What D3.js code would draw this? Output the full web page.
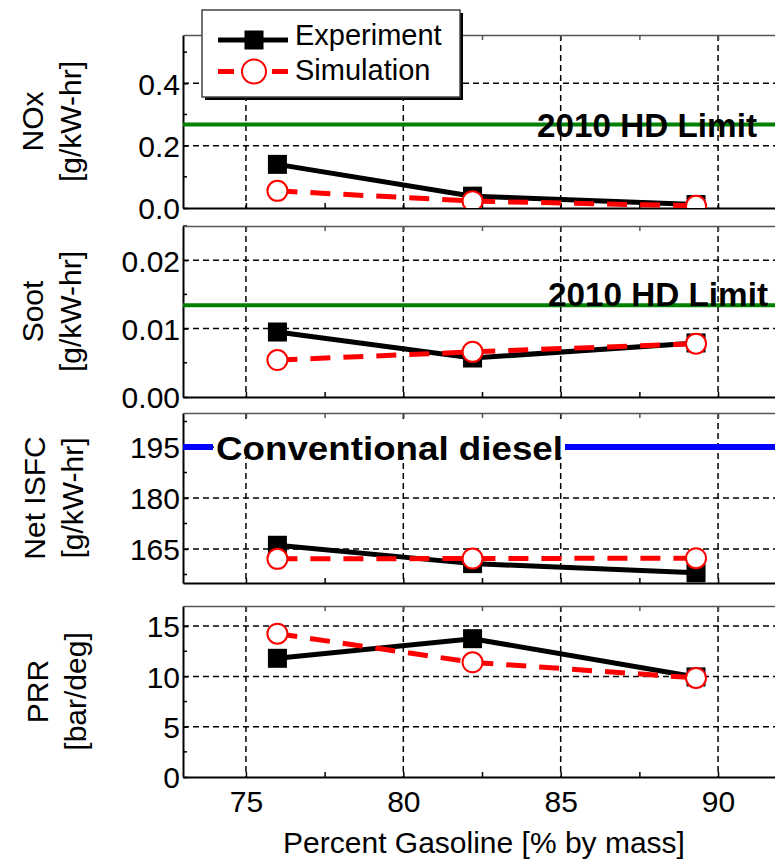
<!DOCTYPE html>
<html>
<head>
<meta charset="utf-8">
<script src="https://cdn.jsdelivr.net/npm/d3@7"></script>
<style>
  body { margin: 0; background: #fff; }
  text { font-family: "Liberation Sans", Arial, sans-serif; fill: #000; }
</style>
</head>
<body>
<div id="chart"></div>
<script>
// ===== data =====
let gasoline = [76.0, 82.2, 89.3];

let expNOx = [0.14, 0.038, 0.011];
let simNOx = [0.055, 0.022, 0.007];
let expSoot = [0.0095, 0.0057, 0.0079];
let simSoot = [0.0054, 0.0066, 0.0078];
let expISFC = [166.1, 160.7, 158.0];
let simISFC = [162.1, 162.2, 162.3];
let expPRR = [11.8, 13.75, 9.95];
let simPRR = [14.25, 11.4, 9.85];

let limitNOx = 0.268;
let limitSoot = 0.0134;
let dieselISFC = 195;

let panelNames = ["NOx", "Soot", "Net ISFC", "PRR"];
let panelUnits = ["[g/kW-hr]", "[g/kW-hr]", "[g/kW-hr]", "[bar/deg]"];
let yDomains = [[0, 0.555], [0, 0.025], [155, 205], [0, 17]];
let yMajor = [[0, 0.2, 0.4], [0, 0.01, 0.02], [165, 180, 195], [0, 5, 10, 15]];
let yMinor = [[0.1, 0.3, 0.5], [0.005, 0.015, 0.025], [157.5, 172.5, 187.5, 202.5], [2.5, 7.5, 12.5]];
let yFormats = [".1f", ".2f", "d", "d"];
let xMajor = [75, 80, 85, 90];
let xMinor = [77.5, 82.5, 87.5];
let xDomain = [73, 92];

let seriesNames = ["Experiment", "Simulation"];
let expAll = [expNOx, expSoot, expISFC, expPRR];
let simAll = [simNOx, simSoot, simISFC, simPRR];

// ===== layout =====
let svgWidth = 775;
let svgHeight = 861;
let plotLeft = 183;
let plotRight = 781;   // right border falls just outside the window
let panelTops = [35, 226, 413, 606];
let panelBottoms = [208, 397, 583, 777];
let labelShift = [0, 0, 2, 5];
let fontSize = 30;

let svg = d3.select("#chart")
  .append("svg")
  .attr("width", svgWidth)
  .attr("height", svgHeight);

let xScale = d3.scaleLinear().domain(xDomain).range([plotLeft, plotRight]);

let yScales = [];

panelNames.forEach(function(name, i) {
  let top = panelTops[i];
  let bot = panelBottoms[i];
  let yScale = d3.scaleLinear().domain(yDomains[i]).range([bot, top]);
  yScales.push(yScale);

  let g = svg.append("g").attr("class", "panel p" + i);

  // clip for marks
  g.append("clipPath").attr("id", "clip" + i)
    .append("rect")
    .attr("x", plotLeft).attr("y", top)
    .attr("width", plotRight - plotLeft).attr("height", bot - top);

  // dashed grid
  g.append("g").selectAll("line").data(xMajor).enter().append("line")
    .attr("x1", d => xScale(d)).attr("x2", d => xScale(d))
    .attr("y1", top).attr("y2", bot)
    .attr("stroke", "#000").attr("stroke-width", 1.5)
    .attr("stroke-dasharray", "6,4");
  g.append("g").selectAll("line").data(yMajor[i].filter(v => v > yDomains[i][0])).enter().append("line")
    .attr("x1", plotLeft).attr("x2", plotRight)
    .attr("y1", d => yScale(d)).attr("y2", d => yScale(d))
    .attr("stroke", "#000").attr("stroke-width", 1.5)
    .attr("stroke-dasharray", "6,4");

  // axes: left + bottom with inward ticks, top mirrored
  let yAxis = d3.axisLeft(yScale)
    .tickValues(yMajor[i])
    .tickFormat(d3.format(yFormats[i]))
    .tickSizeInner(-5).tickSizeOuter(0).tickPadding(3);
  let yAx = g.append("g").attr("transform", "translate(" + plotLeft + ",0)").call(yAxis);
  yAx.select(".domain").attr("stroke", "#000").attr("stroke-width", 2);
  yAx.selectAll("text").attr("font-size", fontSize).attr("font-family", null)
    .attr("dy", "0.36em");
  yAx.selectAll(".tick line").attr("stroke-width", 1.5);

  g.append("g").selectAll("line").data(yMinor[i]).enter().append("line")
    .attr("x1", plotLeft).attr("x2", plotLeft + 4)
    .attr("y1", d => yScale(d)).attr("y2", d => yScale(d))
    .attr("stroke", "#000").attr("stroke-width", 1.5);

  let xAxis = d3.axisBottom(xScale)
    .tickValues(xMajor.concat(xMinor))
    .tickFormat(d => xMajor.includes(d) ? d : "")
    .tickSizeInner(-5).tickSizeOuter(0).tickPadding(14);
  let xAx = g.append("g").attr("transform", "translate(0," + bot + ")").call(xAxis);
  xAx.select(".domain").attr("stroke", "#000").attr("stroke-width", 2);
  xAx.selectAll(".tick line").attr("stroke-width", 1.5);
  xAx.selectAll("text").attr("font-size", fontSize).attr("font-family", null);
  if (i < panelNames.length - 1) xAx.selectAll("text").remove();

  let xTop = d3.axisTop(xScale)
    .tickValues(xMajor.concat(xMinor))
    .tickFormat("")
    .tickSizeInner(-5).tickSizeOuter(0);
  let xT = g.append("g").attr("transform", "translate(0," + top + ")").call(xTop);
  xT.select(".domain").attr("stroke", "#555").attr("stroke-width", 1.5);
  xT.selectAll(".tick line").attr("stroke", "#555").attr("stroke-width", 1.5);

  // y title, two lines rotated
  let midY = (top + bot) / 2;
  g.append("text")
    .attr("transform", "translate(" + (43 + labelShift[i]) + "," + midY + ")rotate(-90)")
    .attr("text-anchor", "middle")
    .attr("font-size", fontSize)
    .text(name);
  g.append("text")
    .attr("transform", "translate(" + (81 + labelShift[i]) + "," + midY + ")rotate(-90)")
    .attr("text-anchor", "middle")
    .attr("font-size", fontSize)
    .text(panelUnits[i]);
});

// ===== reference limit lines =====
function limitLine(i, value, color, width) {
  return svg.select(".p" + i).append("line")
    .attr("x1", plotLeft).attr("x2", plotRight)
    .attr("y1", yScales[i](value)).attr("y2", yScales[i](value))
    .attr("stroke", color).attr("stroke-width", width);
}
limitLine(0, limitNOx, "#008000", 4);
limitLine(1, limitSoot, "#008000", 4);

svg.select(".p0").append("text")
  .attr("x", 757).attr("y", yScales[0](limitNOx) + 13)
  .attr("text-anchor", "end")
  .attr("font-size", 33).attr("font-weight", "bold")
  .attr("textLength", 220).attr("lengthAdjust", "spacingAndGlyphs")
  .text("2010 HD Limit");
svg.select(".p1").append("text")
  .attr("x", 768).attr("y", yScales[1](limitSoot) + 1)
  .attr("text-anchor", "end")
  .attr("font-size", 33).attr("font-weight", "bold")
  .attr("textLength", 220).attr("lengthAdjust", "spacingAndGlyphs")
  .text("2010 HD Limit");

// conventional diesel: blue line broken by the label
let dieselY = yScales[2](dieselISFC);
let tStart = 216, tEnd = 216 + 347;
// cover the grid behind the label
svg.select(".p2").append("rect")
  .attr("x", tStart - 2).attr("y", dieselY - 26)
  .attr("width", tEnd - tStart + 4).attr("height", 36)
  .attr("fill", "#fff");
svg.select(".p2").append("line")
  .attr("x1", plotLeft).attr("x2", tStart - 3)
  .attr("y1", dieselY).attr("y2", dieselY)
  .attr("stroke", "#0000ff").attr("stroke-width", 6);
svg.select(".p2").append("line")
  .attr("x1", tEnd + 2).attr("x2", plotRight)
  .attr("y1", dieselY).attr("y2", dieselY)
  .attr("stroke", "#0000ff").attr("stroke-width", 6);
svg.select(".p2").append("text")
  .attr("x", tStart).attr("y", dieselY + 13)
  .attr("font-size", 34).attr("font-weight", "bold")
  .attr("textLength", tEnd - tStart).attr("lengthAdjust", "spacingAndGlyphs")
  .text("Conventional diesel");

// ===== series =====
panelNames.forEach(function(name, i) {
  let yScale = yScales[i];
  let g = svg.select(".p" + i).append("g").attr("clip-path", "url(#clip" + i + ")");
  let line = d3.line().x((d, k) => xScale(gasoline[k])).y(d => yScale(d));

  g.append("path").datum(expAll[i])
    .attr("d", line).attr("fill", "none")
    .attr("stroke", "#000").attr("stroke-width", 5);
  g.selectAll("rect.exp").data(expAll[i]).enter().append("rect")
    .attr("class", "exp")
    .attr("x", (d, k) => xScale(gasoline[k]) - 9.5)
    .attr("y", d => yScale(d) - 9.5)
    .attr("width", 19).attr("height", 19)
    .attr("fill", "#000");

  g.append("path").datum(simAll[i])
    .attr("d", line).attr("fill", "none")
    .attr("stroke", "#ff0000").attr("stroke-width", 5)
    .attr("stroke-dasharray", "20,13");
  g.selectAll("circle.sim").data(simAll[i]).enter().append("circle")
    .attr("class", "sim")
    .attr("cx", (d, k) => xScale(gasoline[k]))
    .attr("cy", d => yScale(d))
    .attr("r", 10)
    .attr("fill", "#fff").attr("stroke", "#ff0000").attr("stroke-width", 2);
});

// x title
svg.append("text")
  .attr("x", 484).attr("y", 853)
  .attr("text-anchor", "middle")
  .attr("font-size", fontSize)
  .text("Percent Gasoline [% by mass]");

// ===== legend =====
let legend = svg.append("g").attr("class", "legend");
legend.append("rect")
  .attr("x", 205).attr("y", 13).attr("width", 258).attr("height", 87)
  .attr("fill", "#000");
legend.append("rect")
  .attr("x", 202).attr("y", 10).attr("width", 258).attr("height", 87)
  .attr("fill", "#fff").attr("stroke", "#444").attr("stroke-width", 1.5);

legend.append("line")
  .attr("x1", 218).attr("x2", 288).attr("y1", 40).attr("y2", 40)
  .attr("stroke", "#000").attr("stroke-width", 5);
legend.append("rect")
  .attr("x", 254 - 9.5).attr("y", 40 - 9.5).attr("width", 19).attr("height", 19)
  .attr("fill", "#000");
legend.append("line")
  .attr("x1", 218).attr("x2", 288).attr("y1", 71.5).attr("y2", 71.5)
  .attr("stroke", "#ff0000").attr("stroke-width", 5)
  .attr("stroke-dasharray", "16,38");
legend.append("circle")
  .attr("cx", 254).attr("cy", 71.5).attr("r", 12)
  .attr("fill", "#fff").attr("stroke", "#ff0000").attr("stroke-width", 2);

legend.selectAll("text.lg").data(seriesNames).enter().append("text")
  .attr("class", "lg")
  .attr("x", 295)
  .attr("y", (d, k) => 45 + k * 35)
  .attr("font-size", 29)
  .text(d => d);
</script>
</body>
</html>
